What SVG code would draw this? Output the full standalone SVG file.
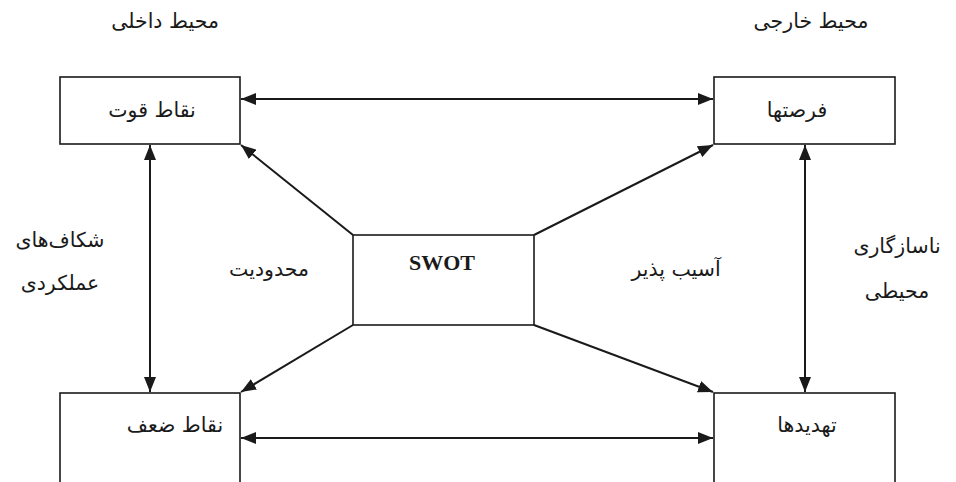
<svg xmlns="http://www.w3.org/2000/svg" width="956" height="482" viewBox="0 0 956 482">
<style>
.box{fill:#fff;stroke:#1a1a1a;stroke-width:1.6}
.c{stroke:#1a1a1a;stroke-width:2;fill:none;marker-end:url(#ah)}
.b{marker-start:url(#ah)}
.t{font-family:"DejaVu Sans","Noto Sans",sans-serif;font-size:20.5px;fill:#1a1a1a;text-anchor:middle;direction:rtl}
.s{font-family:"Liberation Serif",serif;font-size:22px;font-weight:bold;fill:#1a1a1a;text-anchor:middle}
</style>
<defs>
<marker id="ah" viewBox="0 0 15 12" refX="15" refY="6" markerWidth="15" markerHeight="12" markerUnits="userSpaceOnUse" orient="auto-start-reverse">
<path d="M0,0 L15,6 L0,12 Z" fill="#1a1a1a"/>
</marker>
</defs>
<rect width="956" height="482" fill="#fff"/>
<text class="t" x="165" y="28">محیط داخلی</text>
<text class="t" x="811" y="28">محیط خارجی</text>
<g id="connectors">
<line class="c b" x1="241" y1="99" x2="713" y2="99"/>
<line class="c b" x1="241" y1="438" x2="713" y2="438"/>
<line class="c b" x1="150" y1="145" x2="150" y2="392"/>
<line class="c b" x1="805" y1="145" x2="805" y2="392"/>
<line class="c" x1="353" y1="235" x2="241" y2="145"/>
<line class="c" x1="534" y1="235" x2="713" y2="145"/>
<line class="c" x1="353" y1="325" x2="241" y2="392"/>
<line class="c" x1="534" y1="325" x2="713" y2="392"/>
</g>
<g id="strengths"><rect class="box" x="60" y="77" width="180" height="67"/><text class="t" x="152" y="117">نقاط قوت</text></g>
<g id="opportunities"><rect class="box" x="714" y="77" width="181" height="67"/><text class="t" x="797" y="117">فرصتها</text></g>
<g id="weaknesses"><rect class="box" x="60" y="393" width="180" height="100"/><text class="t" x="175" y="432">نقاط ضعف</text></g>
<g id="threats"><rect class="box" x="714" y="393" width="181" height="100"/><text class="t" x="807" y="432">تهدیدها</text></g>
<g id="swot"><rect class="box" x="353" y="235" width="181" height="90"/><text class="s" x="442" y="270">SWOT</text></g>
<text class="t" x="269" y="276">محدودیت</text>
<text class="t" x="676" y="276">آسیب پذیر</text>
<text class="t" x="60" y="247">شکاف‌های</text>
<text class="t" x="60" y="290">عملکردی</text>
<text class="t" x="897" y="253">ناسازگاری</text>
<text class="t" x="897" y="298">محیطی</text>
</svg>
